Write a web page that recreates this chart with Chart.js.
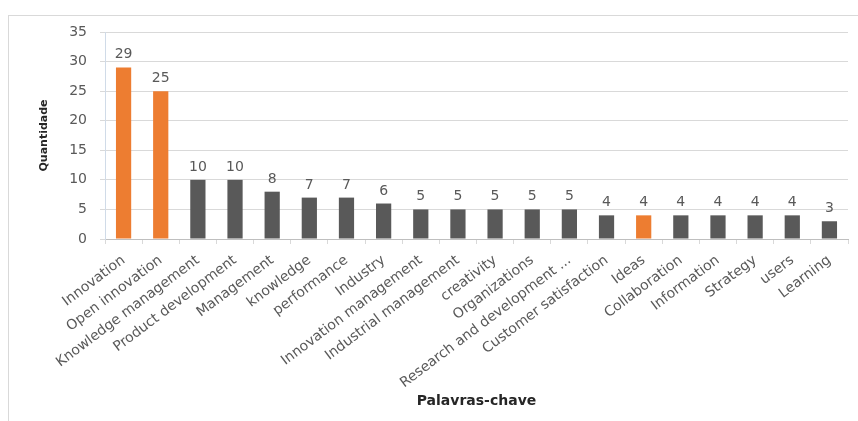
<!DOCTYPE html>
<html>
<head>
<meta charset="utf-8">
<script src="https://cdn.jsdelivr.net/npm/chart.js@4/dist/chart.umd.min.js"></script>
<style>
	html, body { margin: 0; padding: 0; background: #fff; overflow: hidden; }
	#wrap { position: relative; width: 858px; height: 421px; }
	#frame { position: absolute; left: 8px; top: 15px; width: 900px; height: 500px; border: 1px solid #d9d9d9; }
	#myGraphicWords { position: absolute; left: 0; top: 0; }
</style>
</head>
<body>
<div id="wrap">
	<div id="frame"></div>
	<canvas id="myGraphicWords" width="858" height="421"></canvas>
</div>
<script>
const categories = [
	"Innovation", "Open innovation", "Knowledge management", "Product development",
	"Management", "knowledge", "performance", "Industry", "Innovation management",
	"Industrial management", "creativity", "Organizations", "Research and development ...",
	"Customer satisfaction", "Ideas", "Collaboration", "Information", "Strategy", "users", "Learning",
];
const quantities = [29, 25, 10, 10, 8, 7, 7, 6, 5, 5, 5, 5, 5, 4, 4, 4, 4, 4, 4, 3];
const highlighted = ["Innovation", "Open innovation", "Ideas"];
const yTicks = [0, 5, 10, 15, 20, 25, 30, 35];

const ORANGE = "#ED7D31";
const GRAY = "#595959";
const FONT = "'DejaVu Sans', 'Open Sans', sans-serif";

// numbers above each bar
const valueLabels = {
	id: "valueLabels",
	afterDatasetsDraw(chart) {
		const { ctx } = chart;
		const meta = chart.getDatasetMeta(0);
		ctx.save();
		ctx.font = `14px ${FONT}`;
		ctx.fillStyle = "#595959";
		ctx.textAlign = "center";
		ctx.textBaseline = "alphabetic";
		meta.data.forEach((bar, i) => {
			ctx.fillText(String(quantities[i]), bar.x, bar.y - 9);
		});
		ctx.restore();
	},
};

const ctx = document.getElementById("myGraphicWords").getContext("2d");
const myGraphic = new Chart(ctx, {
	type: "bar",
	data: {
		labels: categories,
		datasets: [
			{
				label: "Quantidade",
				data: quantities,
				backgroundColor: categories.map((c) => (highlighted.includes(c) ? ORANGE : GRAY)),
				borderWidth: 0,
				categoryPercentage: 1,
				barPercentage: 0.41,
			},
		],
	},
	options: {
		responsive: false,
		animation: false,
		layout: { padding: { top: 32, right: 10, left: 0, bottom: 0 } },
		plugins: {
			legend: { display: false },
			tooltip: { enabled: false },
		},
		scales: {
			x: {
				offset: true,
				grid: {
					offset: true,
					drawOnChartArea: false,
					drawTicks: true,
					tickLength: 5,
					color: "#d9d9d9",
				},
				border: { color: "#bfbfbf" },
				ticks: {
					autoSkip: false,
					minRotation: 37,
					maxRotation: 37,
					padding: 8,
					color: "#595959",
					font: { family: FONT, size: 14 },
				},
				title: {
					display: true,
					text: "Palavras-chave",
					color: "#262626",
					padding: { top: 0, bottom: 11 },
					font: { family: FONT, size: 14, weight: "bold" },
				},
				afterFit(scale) {
					scale.height = 182;
				},
			},
			y: {
				min: 0,
				max: 35,
				afterBuildTicks(scale) {
					scale.ticks = yTicks.map((v) => ({ value: v }));
				},
				grid: {
					color: "#d9d9d9",
					tickLength: 5,
				},
				border: { color: "#d0dbe8" },
				ticks: {
					padding: 13,
					color: "#595959",
					font: { family: FONT, size: 14 },
				},
				title: {
					display: true,
					text: "Quantidade",
					color: "#262626",
					padding: { top: 38, bottom: 0 },
					font: { family: FONT, size: 11, weight: "bold" },
				},
				afterFit(scale) {
					scale.width = 105;
				},
			},
		},
	},
	plugins: [valueLabels],
});
</script>
</body>
</html>
